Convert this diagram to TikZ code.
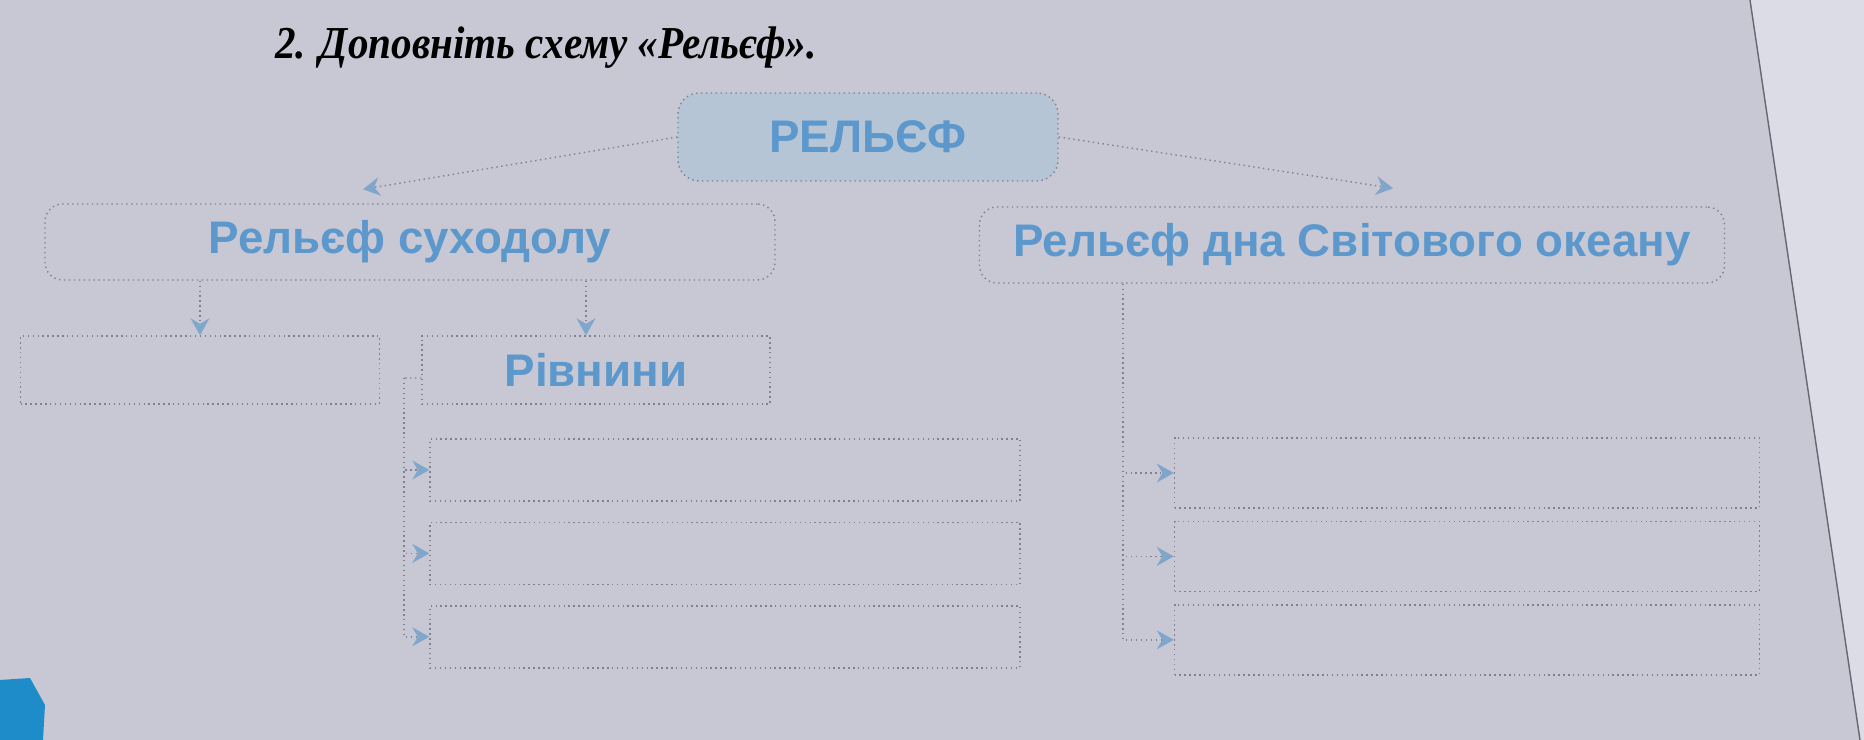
\documentclass[tikz,border=0pt]{standalone}
\usepackage{fontspec}
\setmainfont{Liberation Serif}
\setsansfont{Liberation Sans}
\usepackage{xcolor}
\usetikzlibrary{positioning,arrows.meta}
\definecolor{paper}{RGB}{200,200,212}
\definecolor{sheet}{RGB}{220,220,230}
\definecolor{ink}{RGB}{92,152,204}
\definecolor{edge}{RGB}{128,128,144}
\definecolor{headfill}{RGB}{182,197,214}
\definecolor{tipfill}{RGB}{128,166,204}
\definecolor{corner}{RGB}{30,140,200}

\begin{document}
\begin{tikzpicture}[
    node distance=0.2cm,
    box/.style={rectangle,draw=edge,densely dotted,fill=paper,
                font=\sffamily\bfseries\fontsize{13}{15}\selectfont,
                text=ink,align=center,inner sep=0pt},
    head/.style={box,rounded corners=6pt,fill=headfill,
                 minimum width=3.8cm,minimum height=0.88cm},
    topic/.style={box,rounded corners=5pt,minimum height=0.76cm},
    slot/.style={box,minimum height=0.62cm},
    line/.style={draw=edge,densely dotted},
    link/.style={line,-{Stealth[length=1.7mm,width=1.9mm,color=tipfill,fill=tipfill]}}]
\useasboundingbox (0,0) rectangle (18.64,-7.40);
\fill[paper] (0,0) rectangle (18.64,-7.40);
% next page edge and the corner of the facing page
\fill[sheet] (17.50,0) -- (18.64,0) -- (18.64,-7.40) -- (18.60,-7.40) -- cycle;
\draw[edge!80!black,thin] (17.50,0) -- (18.60,-7.40);
\fill[corner] (0,-6.80) -- (0.30,-6.78) -- (0.45,-7.05) -- (0.43,-7.40) -- (0,-7.40) -- cycle;
\node[xscale=0.9,transform shape] (title) at (5.46,-0.48) {\bfseries\itshape\fontsize{13}{15}\selectfont 2. Доповніть схему «Рельєф».};
\node[head] (relief) at (8.68,-1.37) {РЕЛЬЄФ};
\node[topic,minimum width=7.3cm]  (land)  at (4.10,-2.42) {Рельєф суходолу};
\node[topic,minimum width=7.45cm] (ocean) at (13.52,-2.45) {Рельєф дна Світового океану};
\node[slot,minimum width=3.59cm,minimum height=0.68cm] (mount) at (2.00,-3.70) {};
\node[slot,minimum width=3.48cm,minimum height=0.68cm] (plain) at (5.96,-3.70) {Рівнини};
% plains, three kinds
\node[slot,minimum width=5.9cm] (pa) at (7.25,-4.70) {};
\node[slot,minimum width=5.9cm,below=of pa] (pb) {};
\node[slot,minimum width=5.9cm,below=of pb] (pc) {};
% ocean floor, three parts
\node[slot,minimum width=5.85cm,minimum height=0.7cm] (oa) at (14.67,-4.73) {};
\node[slot,minimum width=5.85cm,minimum height=0.7cm,below=0.12cm of oa] (ob) {};
\node[slot,minimum width=5.85cm,minimum height=0.7cm,below=0.12cm of ob] (oc) {};
\draw[link] (relief.west) -- ([xshift=-0.47cm,yshift=0.14cm]land.north);
\draw[link] (relief.east) -- ([xshift=0.41cm,yshift=0.18cm]ocean.north);
\draw[link] (mount.north |- land.south) -- (mount.north);
\draw[link] ([xshift=-0.1cm]plain.north |- land.south) -- ([xshift=-0.1cm]plain.north);
\coordinate (lt) at (4.04,-3.78);
\draw[line] ([yshift=-0.08cm]plain.west) -- (lt);
\foreach \b in {pa,pb,pc} \draw[link] (lt) |- (\b.west);
\coordinate (rt) at (11.23,0 |- ocean.south);
\foreach \b in {oa,ob,oc} \draw[link] (rt) |- (\b.west);
\end{tikzpicture}
\end{document}
